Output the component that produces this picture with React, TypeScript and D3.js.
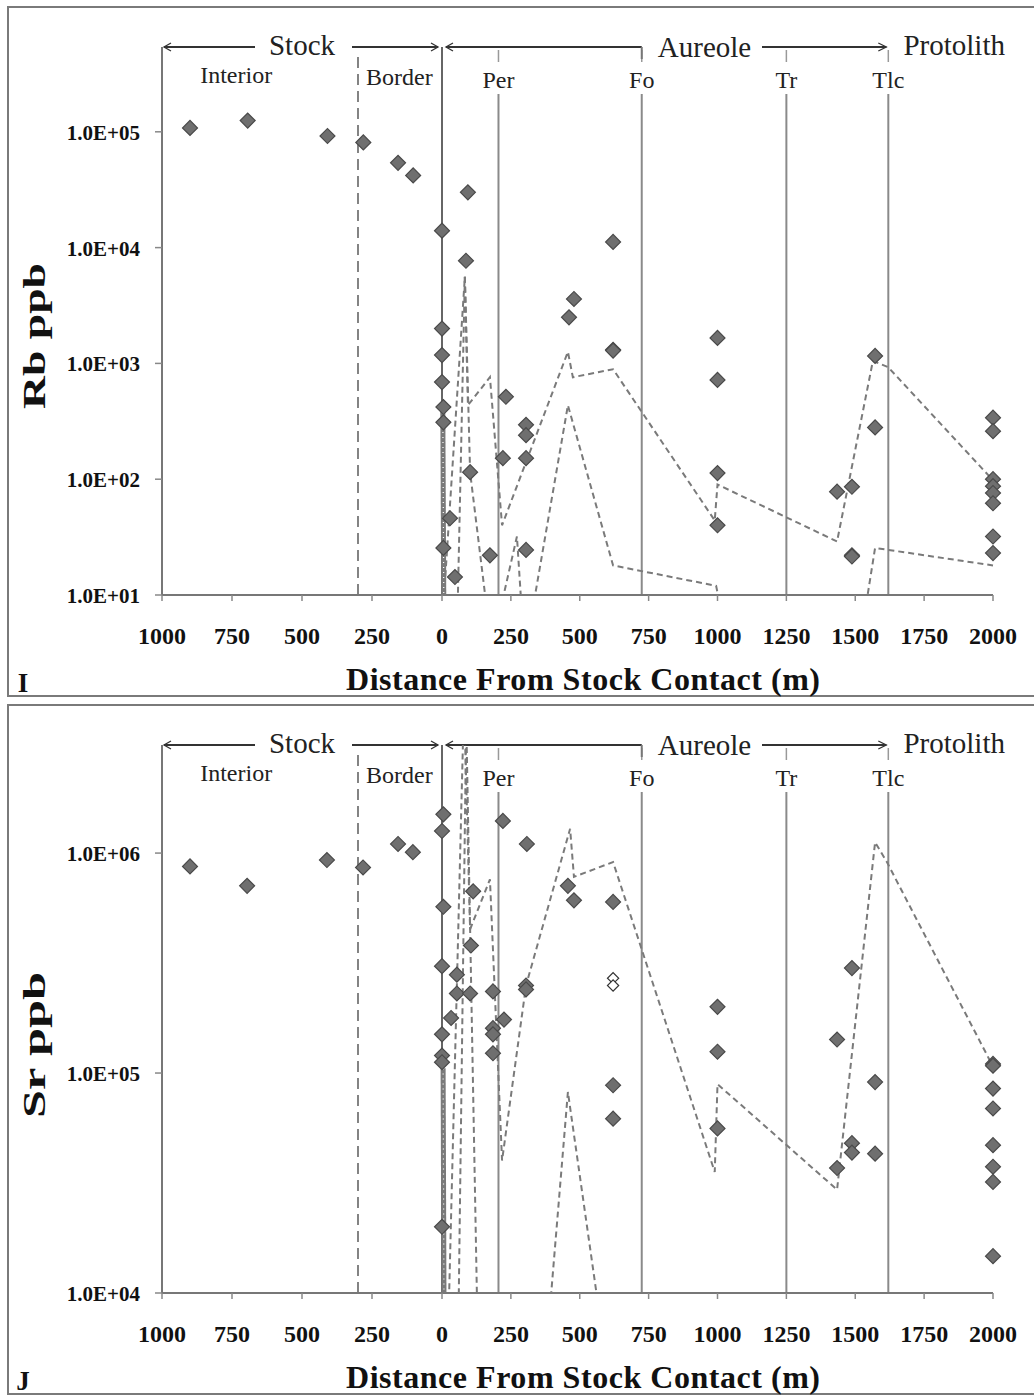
import React from "react";
import * as d3 from "d3";

// distance from stock contact (m): negative = inside the stock
const xTicks = [-1000, -750, -500, -250, 0, 250, 500, 750, 1000, 1250, 1500, 1750, 2000];
const rbTicks = [1e1, 1e2, 1e3, 1e4, 1e5];
const srTicks = [1e4, 1e5, 1e6];

// [distance, ppb]
const rbPoints: [number, number][] = [
  [-900, 1.08e5], [-694, 1.25e5], [-409, 9.2e4], [-281, 8.1e4], [-157, 5.4e4], [-103, 4.2e4],
  [94, 3.0e4], [0, 1.4e4], [87, 7.7e3], [621, 1.12e4], [479, 3.6e3], [461, 2.5e3],
  [621, 1.31e3], [621, 1.29e3], [1000, 1.66e3], [1000, 7.2e2], [1572, 1.16e3], [1572, 2.8e2],
  [0, 2.0e3], [0, 1.18e3], [0, 6.9e2], [5, 4.2e2], [5, 3.1e2],
  [102, 115], [29, 46], [5, 25.5], [47, 14.3], [174, 22],
  [232, 515], [305, 295], [305, 240], [305, 152], [221, 152], [305, 24.5],
  [1000, 113], [1000, 40], [1434, 78], [1488, 86], [1488, 22], [1488, 21.5],
  [2000, 340], [2000, 260], [2000, 100], [2000, 87], [2000, 76], [2000, 62], [2000, 32], [2000, 23],
];
const rbHollow: [number, number][] = [];
const rbLines: [number, number][][] = [
  [[5, 8], [83, 5600], [94, 435], [174, 760], [218, 40], [457, 1260], [475, 760], [621, 890],
    [990, 44], [1000, 90], [1434, 29], [1564, 1050], [1619, 930], [2000, 98]],
  [[195, 5], [272, 32], [300, 3], [457, 435], [621, 18], [995, 12], [1010, 8], [1510, 3],
    [1572, 25.5], [2000, 18]],
  [[83, 5600], [55, 5]],
  [[83, 5600], [102, 115], [172, 5]],
];
const rbBand: [number, number][] = [[3, 380], [7, 5]];

const srPoints: [number, number][] = [
  [-900, 8.7e5], [-696, 7.1e5], [-411, 9.3e5], [-282, 8.6e5], [-157, 1.1e6], [-104, 1.01e6],
  [5, 1.5e6], [0, 1.26e6], [5, 5.7e5], [0, 3.06e5], [0, 1.5e5], [0, 1.2e5], [0, 1.12e5], [0, 2.0e4],
  [33, 1.78e5], [54, 2.8e5], [54, 2.3e5], [102, 2.3e5], [113, 6.7e5], [105, 3.8e5],
  [185, 2.35e5], [185, 1.6e5], [185, 1.5e5], [185, 1.23e5], [221, 1.4e6], [225, 1.75e5],
  [308, 1.1e6], [305, 2.5e5], [305, 2.4e5],
  [457, 7.1e5], [479, 6.1e5], [621, 6.0e5], [621, 8.8e4], [621, 6.2e4],
  [1000, 2.0e5], [1000, 1.25e5], [1000, 5.6e4],
  [1434, 1.42e5], [1434, 3.7e4], [1488, 3.0e5], [1488, 4.8e4], [1488, 4.35e4], [1572, 9.1e4], [1572, 4.3e4],
  [2000, 1.1e5], [2000, 1.08e5], [2000, 8.5e4], [2000, 6.9e4], [2000, 4.7e4], [2000, 3.75e4],
  [2000, 3.2e4], [2000, 1.47e4],
];
const srHollow: [number, number][] = [[621, 2.7e5], [621, 2.5e5]];
const srLines: [number, number][][] = [
  [[20, 5e3], [80, 5e6], [102, 4.5e5], [174, 7.6e5], [218, 4e4], [305, 2.5e5], [465, 1.29e6],
    [479, 7.8e5], [621, 9.1e5], [990, 3.55e4], [1000, 8.9e4], [1434, 2.95e4], [1572, 1.12e6],
    [1615, 9.1e5], [2000, 1.07e5]],
  [[350, 2e3], [457, 8.2e4], [640, 2e3]],
  [[60, 8e3], [88, 4e6], [128, 8e3]],
];
const srBand: [number, number][] = [[4, 1.05e5], [8, 5e3]];

// zone boundaries
const zones = [
  { x: -300, label: "", dashed: true },
  { x: 0, label: "" },
  { x: 205, label: "Per" },
  { x: 725, label: "Fo" },
  { x: 1250, label: "Tr" },
  { x: 1620, label: "Tlc" },
];

const serif = "'Liberation Serif', 'DejaVu Serif', serif";
const PLOT_TOP = 40;
const PLOT_BOTTOM = 588;

const x = d3.scaleLinear().domain([-1000, 0, 2000]).range([162, 442, 993]);
const diamond = d3.symbol(d3.symbolSquare, 112)();

type PanelProps = {
  id: string;
  top: number;
  yDomain: [number, number];
  yTicks: number[];
  points: [number, number][];
  hollow: [number, number][];
  lines: [number, number][][];
  band: [number, number][];
  yLabel: string;
  yLabelY: number;
  letter: string;
};

const Panel = (p: PanelProps) => {
  const y = d3.scaleLog().domain(p.yDomain).range([PLOT_BOTTOM, PLOT_TOP]);
  const line = d3.line<[number, number]>().x((d) => x(d[0])).y((d) => y(d[1]));
  const fmt = (d: number) => `1.0E+${String(Math.round(Math.log10(d))).padStart(2, "0")}`;
  const arrowY = PLOT_TOP;
  const left = x(-1000);

  return (
    <g transform={`translate(0,${p.top})`}>
      <rect x={8} y={0} width={1040} height={689} fill="#fff" stroke="#7a7a7a" strokeWidth={2} />
      <defs>
        <clipPath id={`clip-${p.id}`}>
          <rect x={left} y={PLOT_TOP} width={x(2000) - left + 2} height={PLOT_BOTTOM - PLOT_TOP} />
        </clipPath>
      </defs>

      {/* zone boundaries */}
      {zones.map((z, i) => {
        const zx = x(z.x);
        if (z.dashed)
          return <line key={i} x1={zx} x2={zx} y1={50} y2={PLOT_BOTTOM} stroke="#777" strokeWidth={1.8} strokeDasharray="11,6" />;
        if (z.x === 0)
          return <line key={i} x1={zx} x2={zx} y1={PLOT_TOP} y2={PLOT_BOTTOM} stroke="#666" strokeWidth={2} />;
        return (
          <g key={i}>
            <line x1={zx} x2={zx} y1={87} y2={PLOT_BOTTOM} stroke="#8a8a8a" strokeWidth={2} />
            <line x1={zx} x2={zx} y1={43} y2={55} stroke="#999" strokeWidth={1.5} />
            <text x={zx} y={81} textAnchor="middle" fontFamily={serif} fontSize={24} fill="#222">
              {z.label}
            </text>
          </g>
        );
      })}

      {/* stock / aureole arrows */}
      <g stroke="#333" strokeWidth={2} fill="none">
        <line x1={left + 2} x2={255} y1={arrowY} y2={arrowY} />
        <path d={`M${left + 9},${arrowY - 4} L${left + 2},${arrowY} L${left + 9},${arrowY + 4}`} strokeWidth={1.3} />
        <line x1={352} x2={x(0) - 4} y1={arrowY} y2={arrowY} />
        <path d={`M${x(0) - 11},${arrowY - 4} L${x(0) - 4},${arrowY} L${x(0) - 11},${arrowY + 4}`} strokeWidth={1.3} />
        <line x1={x(0) + 4} x2={x(725)} y1={arrowY} y2={arrowY} />
        <path d={`M${x(0) + 11},${arrowY - 4} L${x(0) + 4},${arrowY} L${x(0) + 11},${arrowY + 4}`} strokeWidth={1.3} />
        <line x1={x(725)} x2={x(725)} y1={arrowY} y2={arrowY + 12} stroke="#777" />
        <line x1={762} x2={x(1620) - 2} y1={arrowY} y2={arrowY} />
        <path d={`M${x(1620) - 10},${arrowY - 4} L${x(1620) - 2},${arrowY} L${x(1620) - 10},${arrowY + 4}`} strokeWidth={1.3} />
      </g>
      <g fontFamily={serif} fontSize={29} fill="#222">
        <text x={x(-500)} y={48} textAnchor="middle">Stock</text>
        <text x={x(953)} y={50} textAnchor="middle">Aureole</text>
        <text x={x(1675)} y={48} textAnchor="start">Protolith</text>
      </g>
      <g fontFamily={serif} fontSize={24} fill="#222" textAnchor="middle">
        <text x={x(-735)} y={76}>Interior</text>
        <text x={x(-152)} y={78}>Border</text>
      </g>

      {/* axes */}
      <line x1={left} x2={left} y1={PLOT_TOP} y2={PLOT_BOTTOM} stroke="#777" strokeWidth={2} />
      <line x1={left} x2={x(2000)} y1={PLOT_BOTTOM} y2={PLOT_BOTTOM} stroke="#777" strokeWidth={2} />
      {p.yTicks.map((t) => (
        <g key={t}>
          <line x1={left - 7} x2={left} y1={y(t)} y2={y(t)} stroke="#888" strokeWidth={1.5} />
          <text x={140} y={y(t) + 8} textAnchor="end" fontFamily={serif} fontWeight="bold" fontSize={21} fill="#111">
            {fmt(t)}
          </text>
        </g>
      ))}
      {xTicks.map((t) => (
        <g key={t}>
          <line x1={x(t)} x2={x(t)} y1={PLOT_BOTTOM} y2={PLOT_BOTTOM + 6} stroke="#888" strokeWidth={1.5} />
          <text x={x(t)} y={637} textAnchor="middle" fontFamily={serif} fontWeight="bold" fontSize={24} fill="#111">
            {Math.abs(t)}
          </text>
        </g>
      ))}

      {/* model lines */}
      <g clipPath={`url(#clip-${p.id})`}>
        {p.lines.map((l, i) => (
          <path key={i} d={line(l) || ""} fill="none" stroke="#7a7a7a" strokeWidth={2} strokeDasharray="6,4" />
        ))}
        <path d={line(p.band) || ""} fill="none" stroke="#7a7a7a" strokeWidth={5} />
        <path d={line(p.band) || ""} fill="none" stroke="#fff" strokeWidth={1.2} strokeDasharray="1,4" />
      </g>

      {/* samples */}
      {p.points.map((d, i) => (
        <path key={i} d={diamond || ""} transform={`translate(${x(d[0])},${y(d[1])}) rotate(45)`}
          fill="#6f6f6f" stroke="#4a4a4a" strokeWidth={1.2} />
      ))}
      {p.hollow.map((d, i) => (
        <path key={`h${i}`} d={diamond || ""} transform={`translate(${x(d[0])},${y(d[1])}) rotate(45) scale(0.75)`}
          fill="#fff" stroke="#333" strokeWidth={1.6} />
      ))}

      {/* titles */}
      <text transform={`translate(45,${p.yLabelY}) rotate(-90)`} textAnchor="middle" fontFamily={serif}
        fontWeight="bold" fontSize={32} fill="#111" textLength={146} lengthAdjust="spacingAndGlyphs">
        {p.yLabel}
      </text>
      <text x={583} y={683} textAnchor="middle" fontFamily={serif} fontWeight="bold" fontSize={32} fill="#111"
        textLength={474} lengthAdjust="spacing">
        Distance From Stock Contact (m)
      </text>
      <text x={23} y={685} textAnchor="middle" fontFamily={serif} fontWeight="bold" fontSize={27} fill="#111">
        {p.letter}
      </text>
    </g>
  );
};

export default function App() {
  return (
    <svg width={1034} height={1395} style={{ position: "absolute", left: 0, top: 0, background: "#fff" }}>
      <rect width={1034} height={1395} fill="#fff" />
      <Panel id="rb" top={7} yDomain={[10, 5.4e5]} yTicks={rbTicks} points={rbPoints} hollow={rbHollow}
        lines={rbLines} band={rbBand} yLabel="Rb ppb" yLabelY={329} letter="I" />
      <Panel id="sr" top={705} yDomain={[1e4, 3.1e6]} yTicks={srTicks} points={srPoints} hollow={srHollow}
        lines={srLines} band={srBand} yLabel="Sr ppb" yLabelY={340} letter="J" />
    </svg>
  );
}
